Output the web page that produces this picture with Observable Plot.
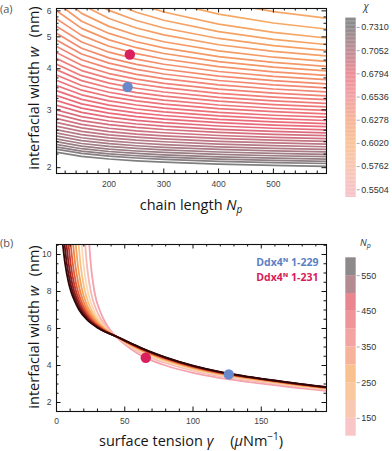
<!DOCTYPE html>
<html><head><meta charset="utf-8">
<script src="https://cdn.jsdelivr.net/npm/d3@7"></script>
<script src="https://cdn.jsdelivr.net/npm/@observablehq/plot@0.6"></script>
<style>
body{margin:0;background:#fff;}
#root{position:relative;width:392px;height:451px;overflow:hidden;background:#fff;}
#root > *{position:absolute;}
</style></head><body><div id="root"></div>
<script>
// ---------- panel (a): w vs chain length, one line per chi ----------
const npGridA = [100, 150, 200, 250, 300, 400, 500, 600];
const chiLevels = [0.7310,0.7275,0.7240,0.7205,0.7170,0.7135,0.7100,0.7065,0.7030,0.6995,0.6960,0.6925,0.6890,0.6855,0.6820,0.6785,0.6750,0.6715,0.6680,0.6645,0.6610,0.6575,0.6540,0.6505,0.6470,0.6435,0.6400,0.6365,0.6330,0.6295,0.6260,0.6225,0.6190,0.6155,0.6120,0.6085,0.6050,0.6015,0.5980];
const widthByChi = [
 [2.235,2.166,2.125,2.098,2.078,2.050,2.032,2.019],
 [2.281,2.210,2.168,2.140,2.120,2.091,2.072,2.059],
 [2.319,2.245,2.202,2.174,2.152,2.123,2.104,2.090],
 [2.360,2.284,2.240,2.210,2.188,2.158,2.138,2.124],
 [2.404,2.325,2.279,2.248,2.226,2.195,2.174,2.159],
 [2.451,2.369,2.321,2.289,2.265,2.232,2.210,2.195],
 [2.504,2.417,2.366,2.332,2.307,2.273,2.250,2.234],
 [2.559,2.466,2.413,2.377,2.351,2.315,2.290,2.273],
 [2.619,2.521,2.464,2.425,2.398,2.359,2.333,2.315],
 [2.685,2.579,2.518,2.477,2.447,2.406,2.378,2.359],
 [2.756,2.642,2.575,2.531,2.499,2.454,2.425,2.404],
 [2.833,2.708,2.636,2.588,2.554,2.506,2.473,2.451],
 [2.918,2.781,2.703,2.651,2.613,2.561,2.525,2.501],
 [3.010,2.859,2.773,2.716,2.674,2.617,2.579,2.552],
 [3.111,2.945,2.850,2.787,2.741,2.678,2.636,2.607],
 [3.218,3.035,2.930,2.861,2.811,2.742,2.696,2.664],
 [3.331,3.128,3.013,2.937,2.882,2.806,2.756,2.721],
 [3.450,3.227,3.101,3.017,2.957,2.875,2.820,2.782],
 [3.577,3.332,3.194,3.103,3.037,2.948,2.888,2.847],
 [3.711,3.442,3.292,3.193,3.122,3.024,2.960,2.915],
 [3.850,3.557,3.393,3.286,3.209,3.103,3.033,2.985],
 [4.000,3.680,3.501,3.385,3.301,3.187,3.111,3.059],
 [4.159,3.810,3.616,3.489,3.398,3.275,3.193,3.137],
 [4.331,3.949,3.738,3.600,3.502,3.368,3.280,3.219],
 [4.515,4.097,3.867,3.718,3.611,3.466,3.371,3.305],
 [4.718,4.261,4.009,3.847,3.730,3.573,3.470,3.399],
 [4.936,4.434,4.159,3.981,3.855,3.684,3.572,3.495],
 [5.174,4.619,4.317,4.123,3.985,3.800,3.678,3.594],
 [5.439,4.825,4.492,4.279,4.127,3.924,3.791,3.700],
 [5.737,5.053,4.684,4.448,4.282,4.058,3.912,3.813],
 [6.073,5.306,4.896,4.635,4.450,4.204,4.044,3.935],
 [6.442,5.580,5.123,4.832,4.628,4.356,4.180,4.060],
 [6.867,5.895,5.382,5.059,4.832,4.531,4.336,4.204],
 [7.375,6.266,5.687,5.322,5.069,4.732,4.516,4.369],
 [7.947,6.677,6.019,5.608,5.321,4.945,4.703,4.540],
 [8.655,7.173,6.414,5.943,5.617,5.189,4.916,4.733],
 [9.460,7.735,6.861,6.321,5.951,5.467,5.159,4.953],
 [10.60,8.531,7.495,6.862,6.429,5.867,5.511,5.274],
 [12.13,9.586,8.332,7.572,7.056,6.390,5.971,5.694]
];
const chiTicks = [0.5504,0.5762,0.6020,0.6278,0.6536,0.6794,0.7052,0.7310];
const chiLineColors = ["#f3a1aa","#f5ab8a","#f6a863","#f49468","#ef7a7a","#ea687a","#b07a86","#7f7f81"];
const chiBarColors  = ["#f6c4c6","#f8c7b2","#f9c49a","#f6b499","#f2a2a6","#ec8f98","#bd8e96","#8e8b8c"];
const xMajorA = [200,300,400,500];
const xMinorA = [120,140,160,180,220,240,260,280,320,340,360,380,420,440,460,480,520,540,560,580];
const yMajorA = [2,3,4,5,6];
const yMinorA = [2.2,2.4,2.6,2.8,3.25,3.5,3.75,4.25,4.5,4.75,5.25,5.5,5.75];

// ---------- proteins ----------
const proteinNames = ["Ddx4\u1D3A 1-229","Ddx4\u1D3A 1-231"];
const proteinNp = [234, 238];
const proteinW = [3.52, 4.42];
const proteinGamma = [126.2, 65.4];
const proteinColors = ["#6889cb","#da1f5d"];
const proteinTextColors = ["#5d80c4","#d61c5a"];

// ---------- panel (b): w vs surface tension, one line per Np ----------
const npLevels = [100,150,200,250,300,350,400,450,500,550,600];
const wSteep = [11.5,10.55,9.5,8.5,8.0,7.5,7.0,6.5,6.0,5.5];
const gammaSteepByNp = [
 [23.0,24.0,25.1,26.7,27.8,29.3,31.6,34.5,38.5,44.5],
 [19.93,20.99,22.19,23.93,25.13,26.8,29.28,32.56,37.34,44.73],
 [17.38,18.49,19.76,21.62,22.92,24.73,27.34,30.95,36.37,44.93],
 [15.04,16.2,17.54,19.5,20.89,22.83,25.57,29.48,35.49,45.1],
 [12.9,14.11,15.51,17.57,19.03,21.09,23.95,28.13,34.68,45.26],
 [10.96,12.2,13.67,15.82,17.34,19.51,22.48,26.9,33.94,45.41],
 [9.12,10.4,11.92,14.15,15.74,18.01,21.09,25.74,33.24,45.55],
 [7.48,8.79,10.36,12.67,14.32,16.68,19.84,24.7,32.62,45.68],
 [5.95,7.30,8.91,11.29,12.99,15.44,18.69,23.74,32.04,45.79],
 [4.53,5.90,7.56,10.0,11.75,14.28,17.61,22.84,31.5,45.9],
 [3.2,4.6,6.3,8.8,10.6,13.2,16.6,22.0,31.0,46.0]
];
const gammaFlat = [50,60,65,70,80,100,120,140,160,180,200];
const wFlatByNp = [
 [5.14,4.62,4.42,4.26,4.00,3.60,3.32,3.12,2.94,2.76,2.61],
 [5.208,4.744,4.556,4.399,4.136,3.721,3.422,3.207,3.017,2.831,2.675],
 [5.249,4.818,4.638,4.483,4.218,3.793,3.483,3.259,3.064,2.874,2.714],
 [5.277,4.868,4.693,4.539,4.273,3.842,3.525,3.294,3.095,2.903,2.74],
 [5.297,4.906,4.734,4.581,4.314,3.878,3.556,3.32,3.118,2.924,2.76],
 [5.313,4.934,4.766,4.614,4.346,3.907,3.579,3.34,3.136,2.941,2.775],
 [5.326,4.958,4.792,4.64,4.372,3.93,3.599,3.357,3.151,2.954,2.787],
 [5.337,4.978,4.814,4.663,4.394,3.949,3.615,3.371,3.164,2.966,2.798],
 [5.345,4.994,4.831,4.68,4.411,3.964,3.628,3.382,3.173,2.975,2.806],
 [5.353,5.008,4.846,4.696,4.426,3.978,3.64,3.391,3.182,2.983,2.813],
 [5.36,5.02,4.86,4.71,4.44,3.99,3.65,3.40,3.19,2.99,2.82]
];
const npLineColors = ["#f4a2ae","#f7b9b4","#fbd8b6","#f9c285","#f5a35a","#ef8446","#e15c36","#c4372c","#931c1e","#5e0f10","#2e0607"];
const npBandStarts = [100,150,200,250,300,350,400,450,500,550];
const npBandColors = ["#f8c6c6","#f9c8b2","#f9c89e","#f9c190","#f7b29a","#f3a4a0","#ef9498","#e9868f","#b58b93","#8e8a8c"];
const npTicks = [150,250,350,450,550];
const xMajorB = [0,50,100,150];
const xMinorB = [10,20,30,40,60,70,80,90,110,120,130,140,160,170,180,190];
const yMajorB = [2,4,6,8,10];
const yMinorB = [2.5,3,3.5,4.5,5,5.5,6.5,7,7.5,8.5,9,9.5,10.5];

// ---------- tables ----------
const tableA = chiLevels.flatMap((chi,i) => npGridA.map((np,j) => ({chi, np, w: widthByChi[i][j]})));
const tableB = npLevels.flatMap((np,i) => [
  ...gammaSteepByNp[i].map((g,j) => ({np, gamma: g, w: wSteep[j]})),
  ...gammaFlat.map((g,j) => ({np, gamma: g, w: wFlatByNp[i][j]}))
]);
const dotsA = proteinNames.map((name,i) => ({name, np: proteinNp[i], w: proteinW[i], c: proteinColors[i]}));
const dotsB = proteinNames.map((name,i) => ({name, gamma: proteinGamma[i], w: proteinW[i], c: proteinColors[i]}));

const numFont = "'Liberation Sans', Arial, sans-serif";
const root = document.getElementById("root");

function frameTicks(xMaj, xMin, yMaj, yMin, pw, ph) {
  const s = {stroke: "#111", strokeWidth: 1};
  return [
    Plot.tickX(xMaj, {x: d => d, insetTop: ph - 4.5, ...s}),
    Plot.tickX(xMaj, {x: d => d, insetBottom: ph - 4.5, ...s}),
    Plot.tickX(xMin, {x: d => d, insetTop: ph - 2.5, ...s}),
    Plot.tickX(xMin, {x: d => d, insetBottom: ph - 2.5, ...s}),
    Plot.tickY(yMaj, {y: d => d, insetRight: pw - 4.5, ...s}),
    Plot.tickY(yMaj, {y: d => d, insetLeft: pw - 4.5, ...s}),
    Plot.tickY(yMin, {y: d => d, insetRight: pw - 2.5, ...s}),
    Plot.tickY(yMin, {y: d => d, insetLeft: pw - 2.5, ...s}),
    Plot.frame({stroke: "#111", strokeWidth: 1.1})
  ];
}

// panel a
const WA = 330, HA = 215, mA = {t: 8, l: 56, r: 4, b: 42};
const plotA = Plot.plot({
  width: WA, height: HA, marginTop: mA.t, marginLeft: mA.l, marginRight: mA.r, marginBottom: mA.b,
  style: {fontFamily: numFont, fontSize: "8.5px", color: "#444", background: "transparent"},
  x: {domain: [104.2, 596.9], label: null},
  y: {type: "log", domain: [1.92, 6.1], label: null},
  color: {type: "linear", domain: chiTicks, range: chiLineColors, clamp: true},
  marks: [
    Plot.line(tableA, {x: "np", y: "w", z: "chi", stroke: "chi", strokeWidth: 1.7, clip: true}),
    Plot.dot(dotsA, {x: "np", y: "w", fill: "c", r: 5.2, stroke: null}),
    ...frameTicks(xMajorA, xMinorA, yMajorA, yMinorA, WA - mA.l - mA.r, HA - mA.t - mA.b),
    Plot.axisX({ticks: xMajorA, tickSize: 0, tickPadding: 7, label: null}),
    Plot.axisY({ticks: yMajorA, tickFormat: d => String(d), tickSize: 0, tickPadding: 5, label: null})
  ]
});
plotA.style.left = "0px"; plotA.style.top = "0px";
root.appendChild(plotA);

// colorbar a
const rampA = d3.range(0.5418, 0.7399, 0.0015);
const barA = Plot.plot({
  width: 62, height: 200, marginTop: 19, marginBottom: 3, marginLeft: 15.3, marginRight: 36.3,
  style: {fontFamily: numFont, fontSize: "9px", color: "#333", background: "transparent"},
  x: {domain: [0, 1], axis: null},
  y: {domain: [0.5418, 0.7399], label: null, axis: null},
  color: {type: "linear", domain: chiTicks, range: chiBarColors, clamp: true},
  marks: [
    Plot.rect(rampA, {x1: 0, x2: 1, y1: d => d, y2: d => d + 0.0017, fill: d => d}),
    Plot.axisY({anchor: "right", ticks: chiTicks, tickFormat: d => d.toFixed(4), tickSize: 3, tickPadding: 2, stroke: "#aaa", fill: "#333", label: null})
  ]
});
barA.style.left = "330px"; barA.style.top = "0px";
root.appendChild(barA);

// panel b
const WB = 330, HB = 215, mB = {t: 8, l: 56, r: 4, b: 40};
const plotB = Plot.plot({
  width: WB, height: HB, marginTop: mB.t, marginLeft: mB.l, marginRight: mB.r, marginBottom: mB.b,
  style: {fontFamily: numFont, fontSize: "8.5px", color: "#444", background: "transparent"},
  x: {domain: [0, 197.8], label: null},
  y: {domain: [1.514, 10.54], label: null},
  color: {type: "ordinal", domain: npLevels, range: npLineColors},
  marks: [
    Plot.line(tableB, {x: "gamma", y: "w", z: "np", stroke: "np", strokeWidth: 1.8, curve: "monotone-x", clip: true}),
    Plot.dot(dotsB, {x: "gamma", y: "w", fill: "c", r: 5.2, stroke: null}),
    ...frameTicks(xMajorB, xMinorB, yMajorB, yMinorB, WB - mB.l - mB.r, HB - mB.t - mB.b),
    Plot.axisX({ticks: xMajorB, tickSize: 0, tickPadding: 6, label: null}),
    Plot.axisY({ticks: yMajorB, tickFormat: d => String(d), tickSize: 0, tickPadding: 5, label: null}),
    Plot.text([proteinNames[0]], {text: d => d, frameAnchor: "top-right", dx: -8, dy: 14.3, textAnchor: "end", fill: proteinTextColors[0], fontWeight: "bold", fontSize: 10.5, fontFamily: "'Open Sans', 'DejaVu Sans', sans-serif"}),
    Plot.text([proteinNames[1]], {text: d => d, frameAnchor: "top-right", dx: -8, dy: 29.3, textAnchor: "end", fill: proteinTextColors[1], fontWeight: "bold", fontSize: 10.5, fontFamily: "'Open Sans', 'DejaVu Sans', sans-serif"})
  ]
});
plotB.style.left = "0px"; plotB.style.top = "236px";
root.appendChild(plotB);

// colorbar b
const barB = Plot.plot({
  width: 62, height: 200, marginTop: 17.3, marginBottom: 4.3, marginLeft: 15.3, marginRight: 36.3,
  style: {fontFamily: numFont, fontSize: "9px", color: "#333", background: "transparent"},
  x: {domain: [0, 1], axis: null},
  y: {domain: [100, 600], label: null, axis: null},
  color: {type: "ordinal", domain: npBandStarts, range: npBandColors},
  marks: [
    Plot.rect(npBandStarts, {x1: 0, x2: 1, y1: d => d, y2: d => d + 50, fill: d => d}),
    Plot.axisY({anchor: "right", ticks: npTicks, tickSize: 3, tickPadding: 2, stroke: "#aaa", fill: "#333", label: null})
  ]
});
barB.style.left = "330px"; barB.style.top = "240px";
root.appendChild(barB);

// ---------- labels overlay ----------
const ov = d3.select(root).append("svg").attr("width", 392).attr("height", 451)
  .style("left", "0px").style("top", "0px").style("pointer-events", "none");
const lf = "'Open Sans', sans-serif";
ov.append("text").attr("x", 0).attr("y", 12.5).attr("font-family", lf).attr("font-size", 11).attr("fill", "#555").text("(a)");
ov.append("text").attr("x", 0).attr("y", 246.5).attr("font-family", lf).attr("font-size", 11).attr("fill", "#555").text("(b)");

function yLabel(cy) {
  const t = ov.append("text").attr("transform", `translate(39,${cy}) rotate(-90)`).attr("text-anchor", "middle")
    .attr("font-family", lf).attr("font-size", 14.5).attr("fill", "#151515");
  t.append("tspan").text("interfacial width ");
  t.append("tspan").attr("font-style", "italic").text("w");
  t.append("tspan").text("\u2002\u2009(nm)");
}
yLabel(88);
yLabel(327);

const xa = ov.append("text").attr("x", 191).attr("y", 210).attr("text-anchor", "middle")
  .attr("font-family", lf).attr("font-size", 14.5).attr("fill", "#151515");
xa.append("tspan").text("chain length ");
xa.append("tspan").attr("font-style", "italic").text("N");
xa.append("tspan").attr("font-style", "italic").attr("font-size", 10).attr("dy", 3).text("p");

const xb = ov.append("text").attr("x", 191).attr("y", 446).attr("text-anchor", "middle")
  .attr("font-family", lf).attr("font-size", 14.5).attr("fill", "#151515");
xb.append("tspan").text("surface tension ");
xb.append("tspan").attr("font-style", "italic").text("\u03B3");
xb.append("tspan").text("\u2003\u2009(");
xb.append("tspan").attr("font-style", "italic").text("\u03BC");
xb.append("tspan").text("Nm");
xb.append("tspan").attr("font-size", 10).attr("dy", -6).text("\u22121");
xb.append("tspan").attr("dy", 6).text(")");

ov.append("text").attr("x", 366).attr("y", 10).attr("text-anchor", "middle").attr("font-family", lf)
  .attr("font-size", 10).attr("font-style", "italic").attr("fill", "#333").text("\u03C7");
const np = ov.append("text").attr("x", 360).attr("y", 245.5).attr("font-family", lf)
  .attr("font-size", 9.5).attr("font-style", "italic").attr("fill", "#333");
np.append("tspan").text("N");
np.append("tspan").attr("font-size", 7).attr("dy", 2.5).text("p");
</script></body></html>
